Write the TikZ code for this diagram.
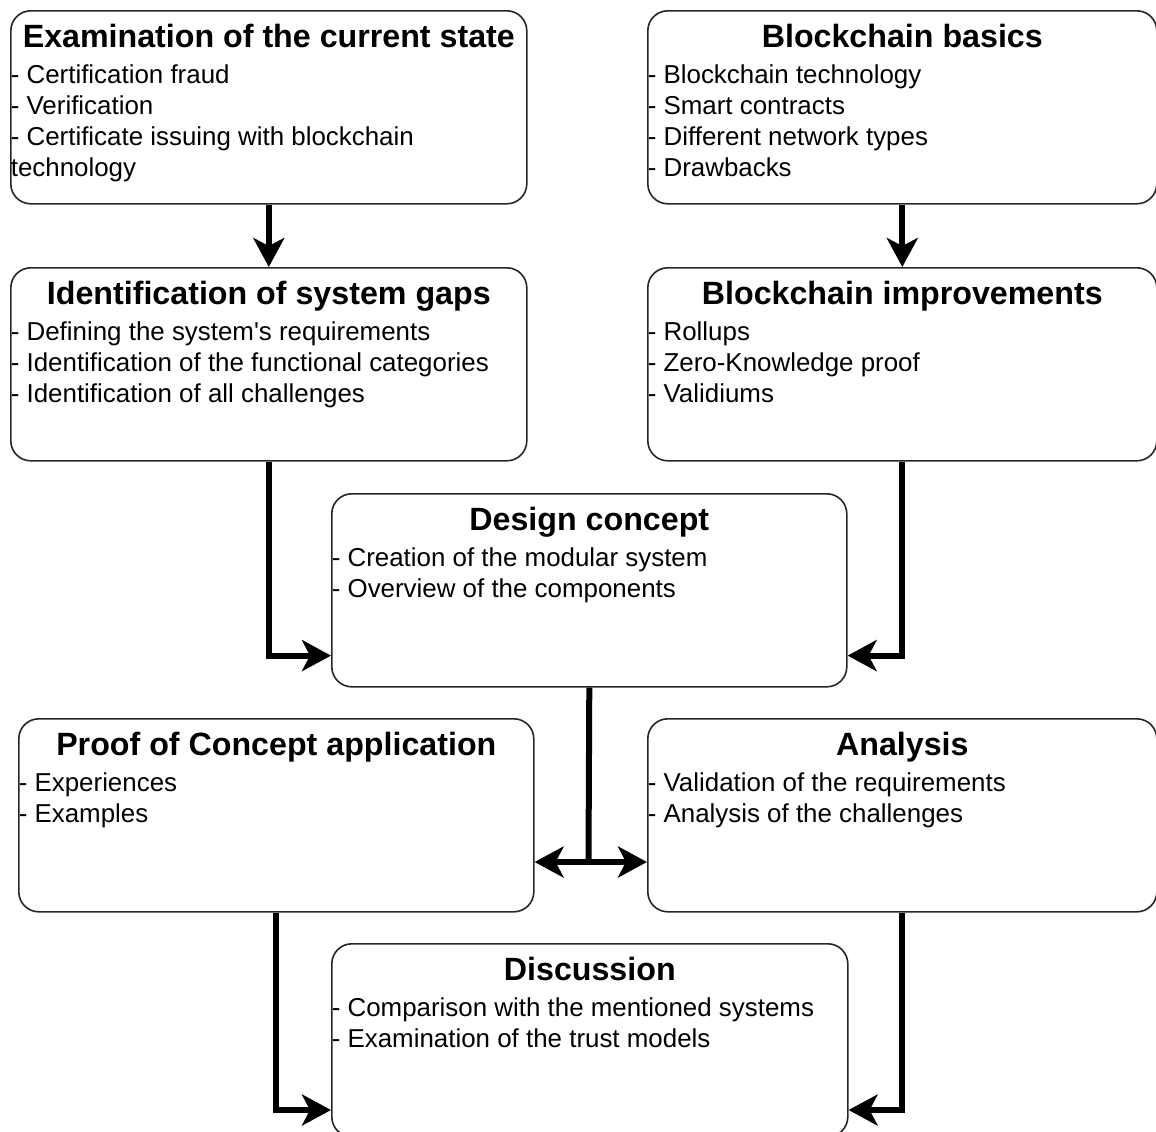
\documentclass[tikz,border=0pt]{standalone}
\usepackage{fontspec}
\setmainfont{Liberation Sans}[Ligatures=TeXOff]
\usetikzlibrary{arrows.meta}

\newcommand{\stagetext}[3]{\parbox[t][96.5pt][t]{#1}{%
	{\centering\fontsize{16.1}{19}\selectfont\bfseries\rule{0pt}{18.5pt}#2\par}%
	\vspace{2.5pt}%
	\raggedright\fontsize{12.95}{15.5}\selectfont #3\par}}

\begin{document}
\begin{tikzpicture}[
	x=0.5pt, y=-0.5pt,
	stage/.style={rectangle, draw=black!85, line width=0.8pt, rounded corners=10pt, inner sep=0pt, anchor=north west},
	flow/.style={line width=3pt, -{Stealth[length=14.5pt, width=15.5pt, inset=4pt]}},
	trunk/.style={line width=3pt},
	]
	\useasboundingbox (0,0) rectangle (1156,1131);
	
	\node [stage] (examination) at (10,10) {\stagetext{258pt}{Examination of the current state}{- Certification fraud\\- Verification\\- Certificate issuing with blockchain\\technology}};
	\node [stage] (basics) at (647,10) {\stagetext{254.5pt}{Blockchain basics}{- Blockchain technology\\- Smart contracts\\- Different network types\\- Drawbacks}};
	\node [stage] (gaps) at (10,267) {\stagetext{258pt}{Identification of system gaps}{- Defining the system's requirements\\- Identification of the functional categories\\- Identification of all challenges}};
	\node [stage] (improvements) at (647,267) {\stagetext{254.5pt}{Blockchain improvements}{- Rollups\\- Zero-Knowledge proof\\- Validiums}};
	\node [stage] (design) at (331,493) {\stagetext{257.5pt}{Design concept}{- Creation of the modular system\\- Overview of the components}};
	\node [stage] (poc) at (18,718) {\stagetext{257.5pt}{Proof of Concept application}{- Experiences\\- Examples}};
	\node [stage] (analysis) at (647,718) {\stagetext{254.5pt}{Analysis}{- Validation of the requirements\\- Analysis of the challenges}};
	\node [stage] (discussion) at (331,943) {\stagetext{258pt}{Discussion}{- Comparison with the mentioned systems\\- Examination of the trust models}};
	
	\coordinate (split) at (588.5,862);
	
	\draw [flow] (examination.south) -- (gaps.north);
	\draw [flow] (basics.south) -- (improvements.north);
	\draw [flow] (gaps.south) |- ([yshift=16pt]design.south west);
	\draw [flow] (improvements.south) |- ([yshift=16pt]design.south east);
	\draw [trunk] (design.south) -- (split);
	\draw [flow] (split) -- (split -| poc.east);
	\draw [flow] (split) -- (split -| analysis.west);
	\draw [flow] (poc.south) |- ([yshift=-83.5pt]discussion.north west);
	\draw [flow] (analysis.south) |- ([yshift=-83.5pt]discussion.north east);
\end{tikzpicture}
\end{document}
